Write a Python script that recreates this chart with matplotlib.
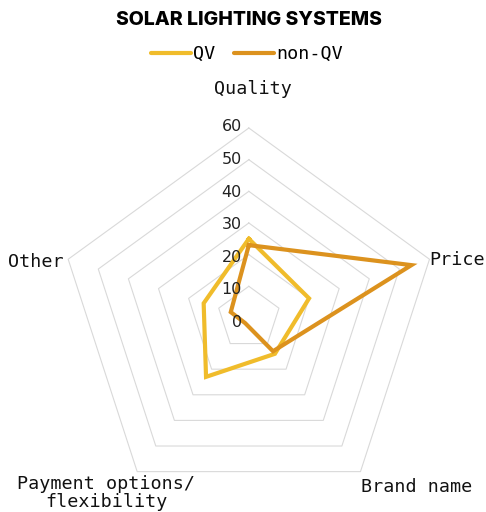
import numpy as np
import matplotlib.pyplot as plt
from matplotlib.lines import Line2D

categories = ['Quality', 'Price', 'Brand name', 'Payment options/\nflexibility', 'Other']
qv = [25, 20, 14, 23, 15]
non_qv = [23, 54, 13, 2, 6]
ticks = [0, 10, 20, 30, 40, 50, 60]

c_qv = '#F0BC2B'
c_non = '#DC921E'
mono = 'DejaVu Sans Mono'

fig = plt.figure(figsize=(4.86, 5.12), dpi=100)
ax = fig.add_axes([0.121, 0.008, 0.782, 0.742], projection='polar')
ax.set_theta_offset(np.pi / 2)
ax.set_theta_direction(-1)
ax.set_ylim(0, 60)
ax.grid(False)
ax.spines['polar'].set_visible(False)
ax.set_xticks([])
ax.set_yticks([])
ax.patch.set_alpha(0)

angles = np.linspace(0, 2 * np.pi, len(categories), endpoint=False)
closed = np.append(angles, angles[0])

# pentagon grid
for t in ticks[1:]:
    ax.plot(closed, [t] * len(closed), color='#d9d9d9', lw=0.8, zorder=1, clip_on=False)

ax.plot(closed, qv + qv[:1], color=c_qv, lw=3, solid_joinstyle='miter', zorder=3, clip_on=False)
ax.plot(closed, non_qv + non_qv[:1], color=c_non, lw=3, solid_joinstyle='miter', zorder=4, clip_on=False)

# radial tick labels
for t in ticks:
    ax.annotate(str(t), xy=(0, t), xytext=(-7, 0.1 * t - 4.7), textcoords='offset pixels',
                ha='right', va='center', fontsize=11.5, color='#222222', zorder=5)

# category labels
offsets = [(4, 39, 'center'), (0, -1, 'left'), (1, -15, 'left'), (-31, -21, 'center'), (-5, -3, 'right')]
for ang, lab, (dx, dy, ha) in zip(angles, categories, offsets):
    ax.annotate(lab, xy=(ang, 60), xytext=(dx, dy), textcoords='offset pixels',
                ha=ha, va='center', multialignment='center', fontsize=13.2, linespacing=1.0,
                family=mono, color='#111111', annotation_clip=False)

fig.text(0.512, 1 - 20 / 512, 'SOLAR LIGHTING SYSTEMS', ha='center', va='center',
         fontsize=14, fontweight='heavy', family='Inter')

handles = [Line2D([], [], color=c_qv, lw=3, solid_capstyle='round'),
           Line2D([], [], color=c_non, lw=3, solid_capstyle='round')]
fig.legend(handles, ['QV', 'non-QV'], loc='center', bbox_to_anchor=(0.508, 1 - 54 / 512),
           ncol=2, frameon=False, handlelength=2.2, handletextpad=0.12, columnspacing=1.0,
           prop={'family': mono, 'size': 13.2})

fig.savefig('out.png', dpi=100)
